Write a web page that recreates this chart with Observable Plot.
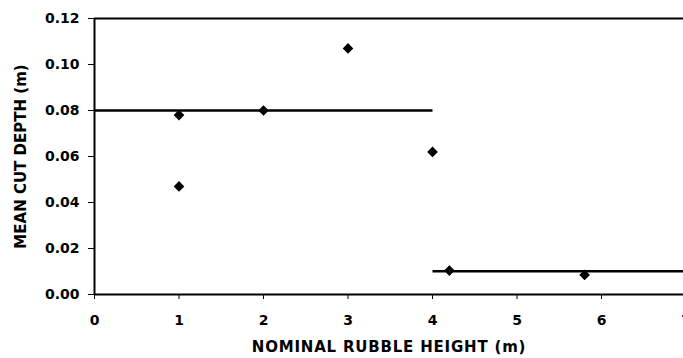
<!DOCTYPE html>
<html>
<head>
<meta charset="utf-8">
<script src="https://cdn.jsdelivr.net/npm/d3@7"></script>
<script src="https://cdn.jsdelivr.net/npm/@observablehq/plot@0.6"></script>
<style>
  html, body { margin: 0; padding: 0; background: #fff; overflow: hidden; }
  #chart svg text { font-family: "DejaVu Sans", sans-serif !important; font-weight: bold !important; fill: #000; }
</style>
</head>
<body>
<div id="chart"></div>
<script>
// Data
const rubbleHeight = [1, 1, 2, 3, 4, 4.2, 5.8];
const cutDepth = [0.078, 0.047, 0.080, 0.107, 0.062, 0.0104, 0.0085];

// Horizontal mean lines
const lineStartX = [0, 4];
const lineEndX = [4, 7];
const lineLevel = [0.080, 0.0101];

const xTicks = [0, 1, 2, 3, 4, 5, 6, 7];
const yTicks = [0, 0.02, 0.04, 0.06, 0.08, 0.10, 0.12];

const points = rubbleHeight.map((x, i) => ({x, y: cutDepth[i]}));
const segs = lineLevel.map((y, i) => ({x1: lineStartX[i], x2: lineEndX[i], y}));

const chart = Plot.plot({
  width: 683,
  height: 358,
  marginTop: 18,
  marginBottom: 64,
  marginLeft: 94,
  marginRight: 0,
  style: {fontFamily: "'DejaVu Sans', sans-serif", fontWeight: "bold", color: "#000", background: "#fff"},
  x: {domain: [0, 7], range: [94, 685.5]},
  y: {domain: [0, 0.12], range: [294, 18]},
  marks: [
    Plot.axisX({ticks: xTicks, tickFormat: d => String(d), tickSize: 5, tickPadding: 16,
      fontSize: 14, stroke: "#000",
      label: "NOMINAL RUBBLE HEIGHT (m)", labelAnchor: "center", labelArrow: false, labelOffset: 57}),
    Plot.axisY({ticks: yTicks, tickFormat: d => d.toFixed(2), tickSize: 6, tickPadding: 9,
      fontSize: 14, stroke: "#000",
      label: "MEAN CUT DEPTH (m)", labelAnchor: "center", labelArrow: false, labelOffset: 79}),
    Plot.ruleY([0.12], {stroke: "#000", strokeWidth: 2}),
    Plot.ruleY([0], {stroke: "#000", strokeWidth: 2}),
    Plot.ruleX([0], {stroke: "#000", strokeWidth: 2}),
    Plot.link(segs, {x1: "x1", x2: "x2", y1: "y", y2: "y", stroke: "#000", strokeWidth: 2.5}),
    Plot.dot(points, {x: "x", y: "y", symbol: "diamond2", r: 4.8, fill: "#000", stroke: "none"})
  ]
});
chart.querySelectorAll("g[aria-label='x-axis label'] text").forEach(t => {
  t.style.fontSize = "15px";
  t.style.letterSpacing = "0.8px";
});
chart.querySelectorAll("g[aria-label='y-axis label'] text").forEach(t => {
  t.style.fontSize = "15px";
});
document.getElementById("chart").appendChild(chart);
</script>
</body>
</html>
